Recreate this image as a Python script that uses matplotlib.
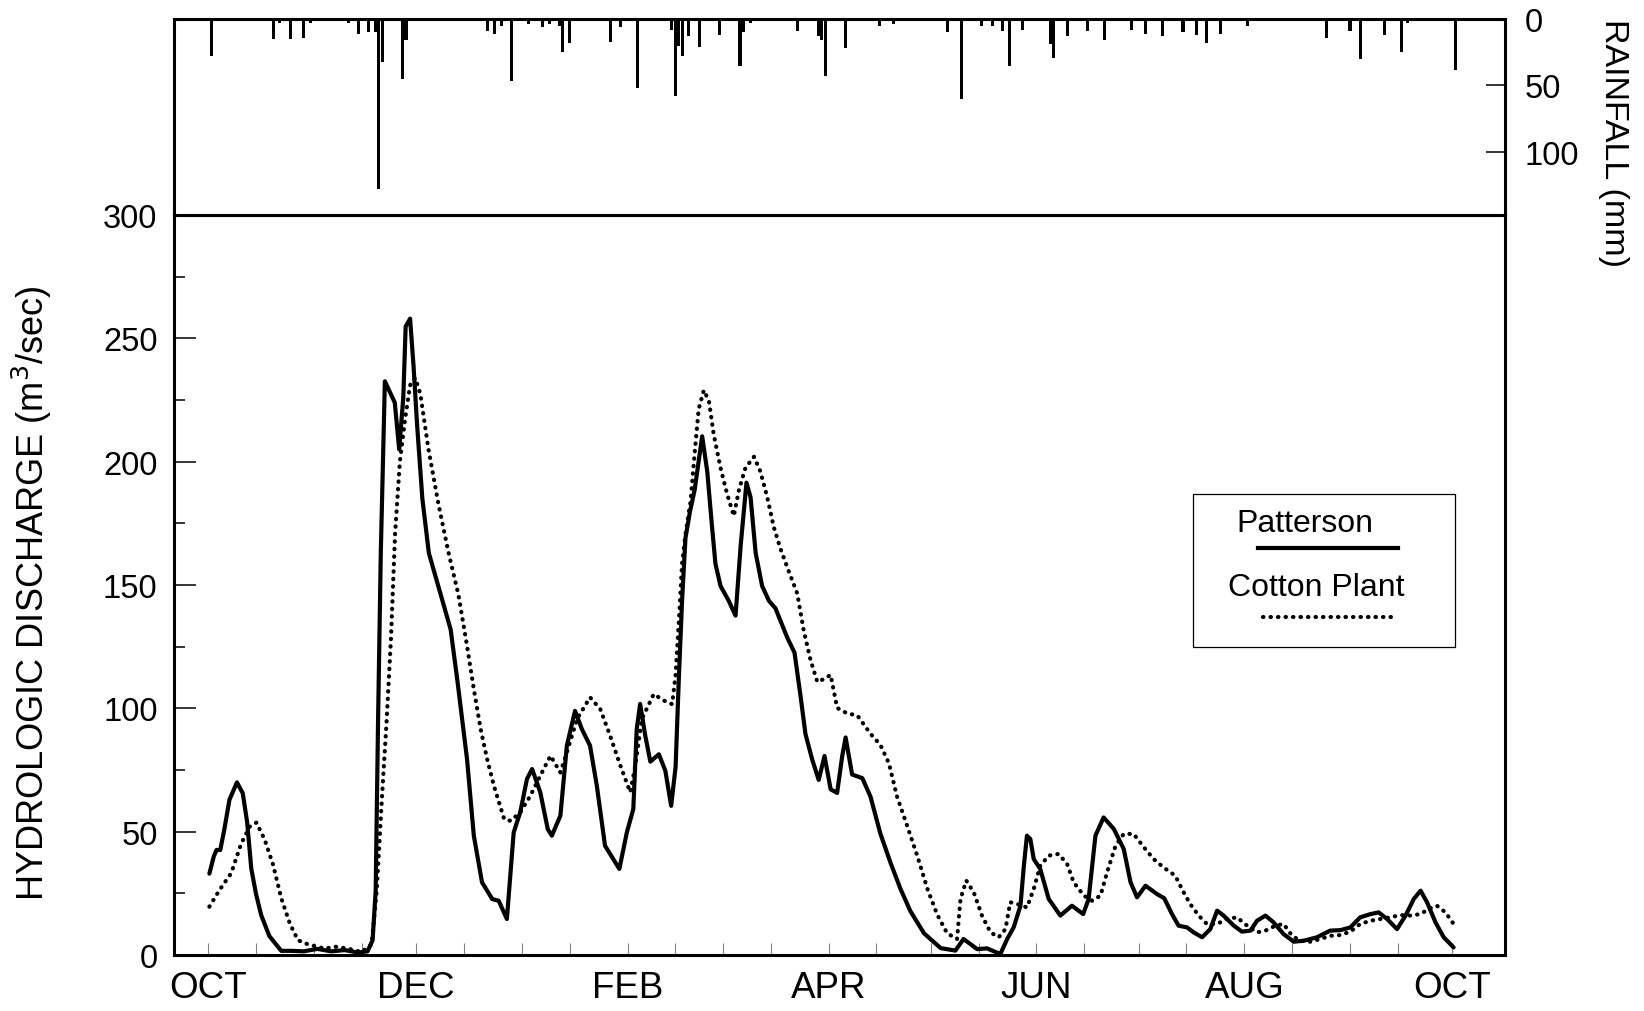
import numpy as np
import matplotlib.pyplot as plt
from matplotlib.patches import Rectangle

plt.rcParams['font.family'] = ['Liberation Sans', 'DejaVu Sans']

# days since 1 October (water year)
patterson_day = [0.3, 1.6, 2.4, 3.5, 4.7, 6.2, 8.4, 10.1, 11.4, 12.6, 14.0, 15.5, 17.9, 21.4,
                 24.3, 28, 32, 36, 40, 44, 46.7, 48.2, 49.1, 49.8, 50.6, 51.8, 53.5, 54.7, 56.0,
                 57.2, 57.9, 59.2, 60.2, 61.3, 62.8, 64.7, 68.2, 71.1, 73.1, 75.9, 77.9, 80.3,
                 83.3, 85.2, 87.6, 89.6, 91.5, 93.5, 95.0, 97.4, 99.6, 100.8, 103.3, 105.2,
                 107.6, 109.6, 112.0, 114.0, 116.4, 120.6, 122.8, 124.7, 125.7, 126.7, 128.2,
                 129.7, 132.2, 134.1, 135.8, 137.1, 138.1, 139.0, 140.0, 141.3, 142.7, 144.9,
                 146.4, 147.8, 148.8, 150.3, 152.7, 154.7, 156.2, 157.9, 159.1, 160.6, 162.5,
                 164.5, 166.4, 169.9, 172.0, 173.8, 175.2, 177.2, 179.1, 180.8, 182.6, 184.5,
                 186.0, 187.0, 188.9, 191.9, 194.3, 197.2, 200.2, 203.1, 206.0, 210.0, 214.9,
                 219.2, 221.6, 225.6, 228.5, 232.4, 234.4, 236.3, 238.3, 239.3, 240.2, 241.2,
                 242.2, 244.1, 246.6, 250.0, 253.4, 256.7, 258.3, 260.3, 262.7, 265.7, 268.6,
                 270.6, 272.5, 275.0, 278.4, 280.5, 282.8, 284.7, 287.2, 289.1, 291.6, 294.0,
                 296.0, 297.9, 300.9, 303.3, 305.8, 307.7, 310.2, 312.6, 315.5, 318.5, 321.4,
                 325.3, 329.2, 332.2, 335.1, 338.0, 341.0, 343.4, 345.9, 348.8, 351.3, 353.7,
                 355.7, 357.6, 360.1, 362.5, 365.4]
patterson_q = [33, 40, 42.6, 42.6, 51, 63, 70, 65.6, 53.7, 35, 24.7, 16.2, 7.7, 1.7,
               1.7, 1.5, 2.5, 1.5, 2, 1, 1.5, 6, 26, 95, 163, 232.6, 227.5, 224, 205,
               226, 254.8, 258, 239, 214, 185, 163, 146, 132, 111, 79.5, 48.4, 29.5,
               22.7, 22, 14.6, 49.7, 57.8, 71.4, 75.4, 66, 51, 48.4, 56.5, 84.9,
               99, 91.6, 84.9, 68.6, 44.3, 34.9, 49.7, 59.2, 91.6, 101.8, 89,
               78.4, 81.4, 74.7, 60.5, 76.2, 113.6, 143.6, 169, 179.6, 188.6, 210.3,
               196, 173.6, 158.6, 149.6, 143.6, 137.6, 166, 191.5, 185.6, 163, 149.6,
               143.6, 140.6, 128.6, 122.6, 104.7, 89.7, 79.2, 71, 80.7, 67.2, 65.7,
               80.7, 88.2, 73.2, 71.7, 64.2, 49.2, 37.3, 26.8, 17.8, 8.8, 2.8,
               1.8, 6.5, 2.4, 2.7, 0.4, 6.5, 11.2, 20, 36.2, 48.4, 47,
               38.9, 34.9, 22.7, 16, 20, 16.6, 22.7, 48.4, 55.8, 51.1, 43,
               29.5, 23.4, 28.1, 24.7, 23, 16.5, 11.9, 11.2, 9.2, 7.2, 10.5,
               18, 16, 11.9, 9.5, 9.9, 13.9, 16, 13.2, 8.5, 5.4, 5.8,
               7.2, 9.9, 10.1, 11.2, 15.3, 16.6, 17.3, 14.6, 10.5, 16, 22.7,
               26.1, 21.4, 13.2, 7.2, 3.1]

cotton_day = [0.3, 3.3, 6.7, 9.6, 12.1, 14.1, 16.5, 19.0, 21.4, 23.9, 26.3, 29.3, 34.2, 37.1,
              41.0, 45.0, 47.9, 49.4, 50.8, 52.3, 53.6, 54.8, 56.2, 57.7, 59.2, 60.7, 62.2,
              64.6, 67.5, 70.5, 73.4, 75.9, 77.9, 79.9, 81.8, 83.8, 86.8, 88.7, 91.5, 94.5,
              97.4, 100.4, 103.3, 105.2, 108.2, 112.0, 115.0, 117.9, 120.9, 123.8, 125.3,
              127.2, 130.7, 133.6, 136.1, 137.1, 138.1, 139.0, 140.0, 141.5, 142.7, 143.9,
              145.4, 146.9, 148.3, 150.3, 152.2, 154.2, 155.7, 157.6, 160.1, 162.0, 164.0,
              165.9, 167.9, 170.3, 172.8, 174.7, 176.7, 178.7, 181.1, 182.6, 184.5, 187.5,
              190.4, 194.3, 197.2, 199.7, 202.1, 205.1, 208.0, 211.0, 213.9, 216.8, 219.7,
              220.7, 222.4, 224.6, 227.0, 229.5, 231.9, 233.9, 235.3, 237.3, 240.2, 242.2,
              244.1, 246.6, 249.5, 252.0, 253.9, 256.9, 259.3, 261.8, 263.7, 266.2, 268.6,
              271.5, 274.5, 277.4, 280.3, 283.7, 286.2, 288.1, 290.6, 293.0, 296.0, 298.9,
              301.8, 304.8, 307.7, 310.2, 313.1, 315.5, 318.0, 320.4, 323.4, 326.3, 329.2,
              332.2, 335.1, 338.0, 341.0, 343.9, 346.8, 349.8, 352.7, 355.7, 358.1, 360.5,
              363.0, 365.4]
cotton_q = [19.6, 26.4, 33.2, 45, 52, 53.7, 46.9, 36.6, 23, 12.8, 6, 4.3, 2.6, 3.4,
            2.6, 1.2, 4.3, 26, 60.5, 94.6, 128.7, 171, 200, 217, 231, 234, 227.5,
            205, 183, 163, 146, 125.4, 107.8, 91.6, 79.5, 68.6, 55.1, 54.4, 57.8, 64.6,
            72.7, 80.8, 74, 82.2, 95.7, 104.5, 99.7, 88.9, 76.8, 66, 76.8,
            95.7, 105.8, 103.2, 101.7, 113.6, 136.1, 158.6, 170.6, 184, 203.5, 221.5,
            229, 224.5, 211, 197.5, 187, 178, 188.6, 197.5, 202, 196, 185.6,
            173.6, 164.6, 155.6, 146.6, 131.6, 119.6, 110.7, 112.2, 113.6, 100.2, 97.9,
            97.2, 89.7, 85.2, 77.7, 64.2, 52.2, 40.3, 26.8, 16.3, 8.8, 6.5,
            22.7, 30.2, 25.4, 16, 9.2, 7.2, 10.5, 21.4, 20.7, 19.3, 26.8,
            36.2, 40.3, 41, 36.9, 29.5, 24.1, 22, 24.1, 33.5, 44.3, 49.1,
            49.1, 43.7, 38.9, 35.5, 32.2, 25.4, 20.7, 16, 12.6, 12.6, 14.6,
            15.3, 11.9, 9.2, 9.9, 11.9, 12.6, 7.8, 5.8, 5.4, 6.5, 7.8,
            8.1, 9.5, 12.6, 13.9, 14.6, 15.3, 16.2, 16, 16.6, 18.7, 20,
            17.3, 12.6]

rain_day = [1, 19, 21, 24, 28, 30, 41, 44, 47, 49, 50, 51, 57, 58, 82, 84, 86, 89, 94, 98,
            100, 103, 104, 106, 118, 121, 126, 136, 137, 138, 139, 141, 144, 150, 156, 157,
            159, 173, 179, 180, 181, 187, 197, 201, 217, 221, 227, 230, 233, 235, 239, 247,
            248, 252, 258, 263, 271, 275, 280, 286, 290, 293, 297, 305, 328, 335, 338, 345,
            350, 352, 366]
rain_mm = [28, 15, 3, 15, 14, 3, 3, 11, 10, 10, 128, 32, 45, 16, 9, 11, 5, 47, 4, 6,
           4, 5, 25, 18, 17, 6, 52, 8, 58, 20, 28, 13, 21, 12, 35, 10,
           3, 9, 13, 16, 43, 22, 5, 4, 10, 60, 5, 5, 9, 35, 8, 19,
           29, 13, 9, 16, 8, 11, 13, 10, 12, 18, 11, 5, 14, 9, 30, 12,
           25, 3, 38]

month_labels = ["OCT", "DEC", "FEB", "APR", "JUN", "AUG", "OCT"]
month_days = [0, 61, 123, 182, 243, 304, 365]
# first day of each month, Oct through the following Oct
month_starts = [0, 31, 61, 92, 123, 151, 182, 212, 243, 273, 304, 335, 365]

dots = (0, (0.1, 1.7))

fig = plt.figure(figsize=(16.44, 10.12), dpi=100)
ax = fig.add_axes([0.106, 0.0553, 0.8097, 0.7312])
axr = fig.add_axes([0.106, 0.7866, 0.8097, 0.1936], sharex=ax)

# discharge
ax.plot(patterson_day, patterson_q, color='black', lw=3.0, solid_joinstyle='round',
        solid_capstyle='round')
ax.plot(cotton_day, cotton_q, color='black', lw=3.0, linestyle=dots,
        dash_capstyle='round')

ax.set_xlim(-10, 380.6)
ax.set_ylim(0, 300)
ax.set_yticks(range(0, 301, 50))
ax.set_yticks(range(25, 300, 50), minor=True)
ax.tick_params(axis='y', which='major', direction='in', length=16, width=1.1,
               labelsize=23.5, pad=12)
ax.tick_params(axis='y', which='minor', direction='in', length=8, width=1.1)
ax.set_xticks(month_days)
ax.set_xticklabels(month_labels)
half_months = [d + 14 for d in month_starts[:-1]]
ax.set_xticks([d for d in month_starts if d not in month_days] + half_months, minor=True)
ax.tick_params(axis='x', which='both', direction='in', length=9, width=0.8,
               color='0.5', labelsize=26.5, pad=11)
ax.set_ylabel("HYDROLOGIC DISCHARGE (m$^3$/sec)", fontsize=26)
ax.yaxis.set_label_coords(-0.0905, 0.49)

# legend box with the label above each line sample
ax.add_patch(Rectangle((0.7656, 0.4162), 0.1968, 0.2068, transform=ax.transAxes,
                       fill=False, edgecolor='black', lw=0.9))
ax.text(0.849, 0.584, "Patterson", transform=ax.transAxes, fontsize=23,
        ha='center', va='center')
ax.plot([0.8144, 0.9196], [0.55, 0.55], transform=ax.transAxes, color='black', lw=3.0)
ax.text(0.858, 0.497, "Cotton Plant", transform=ax.transAxes, fontsize=23,
        ha='center', va='center')
ax.plot([0.818, 0.9196], [0.457, 0.457], transform=ax.transAxes, color='black', lw=3.0,
        linestyle=dots, dash_capstyle='round')

# rainfall hanging from the top
axr.bar(rain_day, rain_mm, width=0.9, color='black', align='center')
axr.set_ylim(147.5, 0)
axr.yaxis.tick_right()
axr.set_yticks([0, 50, 100])
axr.tick_params(axis='y', direction='in', length=14, width=1.1, labelsize=23.5, pad=14)
axr.tick_params(axis='x', which='both', bottom=False, labelbottom=False)
axr.yaxis.set_label_position('right')
axr.set_ylabel("RAINFALL (mm)", fontsize=24.5, rotation=270)
axr.yaxis.set_label_coords(1.093, 0.37)

for a in (ax, axr):
    for s in a.spines.values():
        s.set_linewidth(2.2)

fig.savefig("out.png", dpi=100)
